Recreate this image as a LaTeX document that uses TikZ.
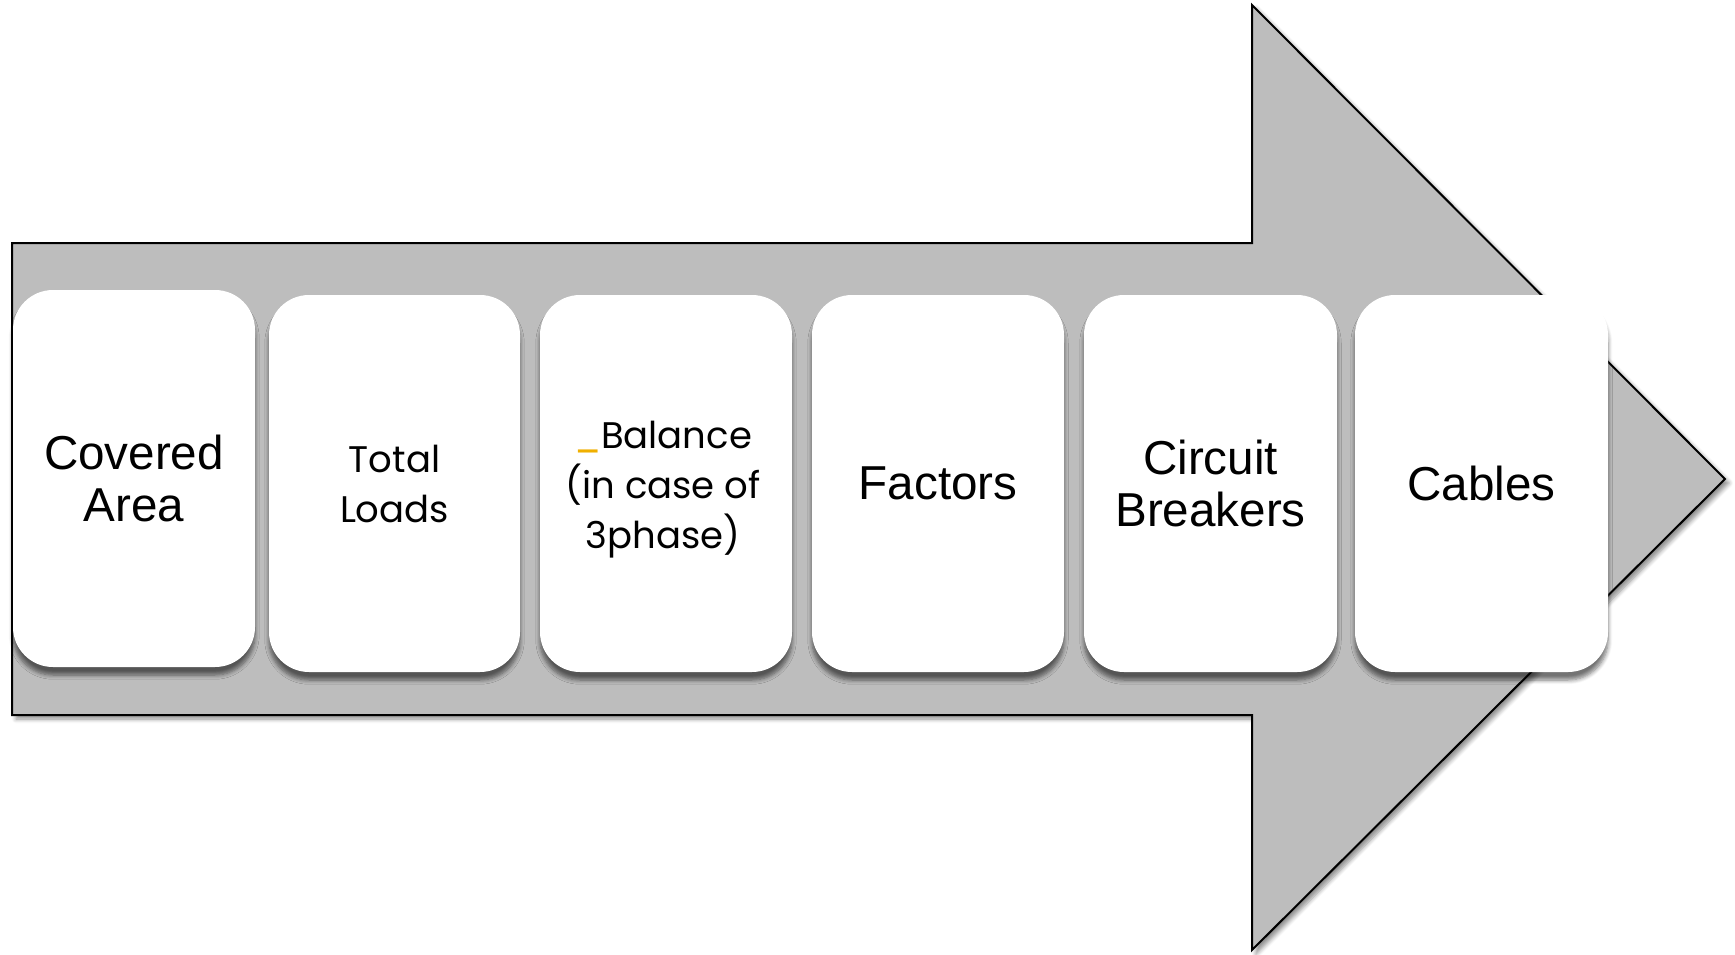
\documentclass[tikz,border=0pt]{standalone}
\usepackage{fontspec}
\setmainfont{Liberation Sans}
\newfontfamily\geo{Poppins}
\usetikzlibrary{shadows.blur}
\definecolor{arrowgray}{HTML}{BDBDBD}
\definecolor{uline}{HTML}{F0B000}
\tikzset{
  bigarrow/.style={fill=arrowgray, draw=black, line width=1pt, line join=miter,
    blur shadow={shadow xshift=2pt, shadow yshift=-2pt, shadow blur steps=6, shadow opacity=45}},
  card/.style={fill=white, draw=none, rounded corners=20pt, inner sep=0pt,
    minimum height=188.5pt, align=center,
    blur shadow={shadow xshift=0pt, shadow yshift=-4pt, shadow blur steps=6, shadow opacity=55}},
  arialtxt/.style={font=\fontsize{23.8}{26}\selectfont},
  geotxt/.style={font=\geo\fontsize{18.5}{25}\selectfont},
}
\begin{document}
\begin{tikzpicture}[x=0.5pt,y=-0.5pt]
\useasboundingbox (0,0) rectangle (1735,954);
\path[bigarrow] (12,243) -- (1252,243) -- (1252,5) -- (1725,479) -- (1252,950) -- (1252,715) -- (12,715) -- cycle;
\node[card, minimum width=121pt, arialtxt] (b1) at (134,478.5) {Covered\\Area};
\node[card, minimum width=125.5pt, geotxt] (b2) at (394.5,483.5) {Total\\Loads};
\node[card, minimum width=126pt,
  label={[align=center, geotxt, inner sep=0pt, yshift=-3pt, xshift=-1.5pt]center:{\color{uline}\_}Balance\\(in case of\\3phase)}] (b3) at (666,483.5) {};
\node[card, minimum width=126pt, arialtxt] (b4) at (938,483.5) {Factors};
\node[card, minimum width=126.5pt, arialtxt] (b5) at (1210.5,483.5) {Circuit\\Breakers};
\node[card, minimum width=126.5pt, arialtxt] (b6) at (1481.5,483.5) {Cables};
\end{tikzpicture}
\end{document}
